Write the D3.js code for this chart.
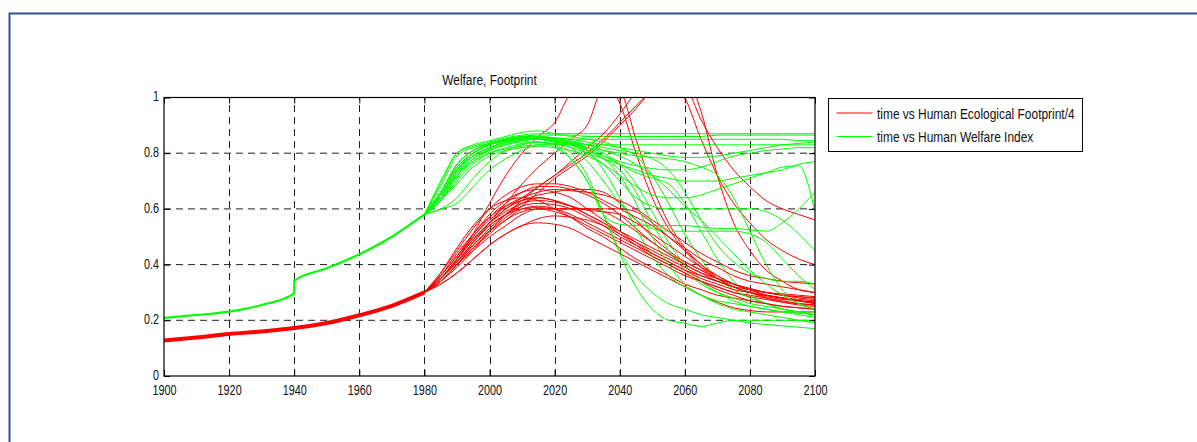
<!DOCTYPE html>
<html>
<head>
<meta charset="utf-8">
<script src="https://cdn.jsdelivr.net/npm/d3@7"></script>
<style>
  body { margin: 0; background: #fff; }
  svg { display: block; font-family: 'Liberation Sans', Arial, Helvetica, sans-serif; }
</style>
</head>
<body>
<div id="chart"></div>
<script>
// ---- data ----
// shared history (all runs coincide before 1980)
const historyYears = [1900, 1910, 1920, 1930, 1940, 1950, 1960, 1970, 1980];
const footprintHistory = [0.127, 0.138, 0.151, 0.16, 0.172, 0.19, 0.218, 0.252, 0.3];
const welfareHistoryYears = [1900, 1910, 1920, 1930, 1940, 1940, 1950, 1960, 1970, 1980];
const welfareHistory = [0.209, 0.219, 0.231, 0.255, 0.297, 0.342, 0.387, 0.437, 0.5, 0.58];

// scenario runs, 1980..2100 every 5 years
const runYears = [1980, 1985, 1990, 1995, 2000, 2005, 2010, 2015, 2020, 2025, 2030, 2035, 2040,
  2045, 2050, 2055, 2060, 2065, 2070, 2075, 2080, 2085, 2090, 2095, 2100];

// Human Ecological Footprint / 4
const footprintRuns = [
  [0.3, 0.35, 0.42, 0.51, 0.62, 0.72, 0.8, 0.86, 0.91, 1.02, 1.08, 1.06, 0.98, 0.8, 0.64, 0.53, 0.45, 0.39, 0.35, 0.32, 0.3, 0.28, 0.265, 0.255, 0.25],
  [0.3, 0.35, 0.41, 0.48, 0.55, 0.62, 0.69, 0.75, 0.8, 0.85, 0.9, 1.03, 1.02, 0.85, 0.68, 0.55, 0.46, 0.4, 0.35, 0.32, 0.3, 0.285, 0.275, 0.27, 0.265],
  [0.3, 0.34, 0.39, 0.45, 0.52, 0.58, 0.63, 0.68, 0.72, 0.77, 0.82, 0.87, 0.94, 1.02, 1.08, 1.08, 1.0, 0.85, 0.72, 0.62, 0.55, 0.49, 0.45, 0.42, 0.4],
  [0.3, 0.34, 0.4, 0.46, 0.52, 0.57, 0.61, 0.66, 0.71, 0.75, 0.79, 0.84, 0.9, 0.96, 1.03, 1.09, 1.05, 0.92, 0.82, 0.74, 0.68, 0.63, 0.6, 0.58, 0.56],
  [0.3, 0.35, 0.42, 0.49, 0.55, 0.6, 0.64, 0.68, 0.72, 0.76, 0.8, 0.85, 0.91, 0.97, 1.03, 1.09, 1.08, 0.95, 0.72, 0.55, 0.45, 0.38, 0.34, 0.31, 0.3],
  [0.3, 0.33, 0.37, 0.42, 0.47, 0.51, 0.54, 0.55, 0.545, 0.53, 0.5, 0.47, 0.44, 0.41, 0.38, 0.35, 0.32, 0.29, 0.265, 0.245, 0.235, 0.23, 0.23, 0.23, 0.23],
  [0.3, 0.35, 0.41, 0.47, 0.53, 0.58, 0.62, 0.64, 0.63, 0.61, 0.58, 0.55, 0.51, 0.47, 0.43, 0.4, 0.37, 0.34, 0.32, 0.3, 0.285, 0.275, 0.265, 0.26, 0.255],
  [0.3, 0.36, 0.43, 0.5, 0.57, 0.62, 0.66, 0.68, 0.68, 0.67, 0.65, 0.62, 0.58, 0.53, 0.48, 0.44, 0.4, 0.37, 0.34, 0.32, 0.3, 0.29, 0.28, 0.27, 0.265],
  [0.3, 0.34, 0.4, 0.46, 0.51, 0.56, 0.59, 0.6, 0.6, 0.6, 0.6, 0.59, 0.56, 0.52, 0.48, 0.44, 0.41, 0.38, 0.35, 0.33, 0.31, 0.3, 0.29, 0.285, 0.28],
  [0.3, 0.35, 0.42, 0.49, 0.55, 0.6, 0.63, 0.65, 0.66, 0.67, 0.67, 0.66, 0.62, 0.56, 0.5, 0.45, 0.41, 0.38, 0.35, 0.33, 0.315, 0.3, 0.29, 0.285, 0.28],
  [0.3, 0.34, 0.4, 0.45, 0.5, 0.54, 0.58, 0.6, 0.59, 0.57, 0.54, 0.51, 0.48, 0.45, 0.42, 0.39, 0.36, 0.34, 0.32, 0.3, 0.29, 0.28, 0.27, 0.26, 0.255],
  [0.3, 0.37, 0.46, 0.54, 0.6, 0.63, 0.64, 0.63, 0.6, 0.57, 0.53, 0.5, 0.46, 0.42, 0.39, 0.36, 0.33, 0.31, 0.29, 0.28, 0.27, 0.26, 0.25, 0.245, 0.24],
  [0.3, 0.35, 0.41, 0.48, 0.54, 0.58, 0.61, 0.62, 0.615, 0.6, 0.57, 0.54, 0.5, 0.47, 0.44, 0.41, 0.38, 0.36, 0.34, 0.32, 0.31, 0.3, 0.295, 0.29, 0.285],
  [0.3, 0.33, 0.37, 0.42, 0.47, 0.51, 0.54, 0.565, 0.575, 0.57, 0.56, 0.54, 0.51, 0.48, 0.45, 0.42, 0.39, 0.36, 0.34, 0.32, 0.3, 0.29, 0.28, 0.27, 0.265],
  [0.3, 0.37, 0.45, 0.53, 0.6, 0.65, 0.68, 0.69, 0.69, 0.68, 0.66, 0.63, 0.6, 0.57, 0.54, 0.5, 0.46, 0.42, 0.39, 0.36, 0.34, 0.33, 0.32, 0.31, 0.3],
  [0.3, 0.35, 0.42, 0.5, 0.56, 0.61, 0.64, 0.66, 0.67, 0.665, 0.66, 0.65, 0.63, 0.6, 0.56, 0.52, 0.48, 0.44, 0.41, 0.38, 0.36, 0.35, 0.34, 0.335, 0.33],
  [0.3, 0.34, 0.4, 0.47, 0.52, 0.56, 0.6, 0.61, 0.6, 0.58, 0.55, 0.52, 0.49, 0.46, 0.43, 0.4, 0.37, 0.34, 0.31, 0.29, 0.27, 0.26, 0.25, 0.245, 0.24],
  [0.3, 0.36, 0.43, 0.51, 0.57, 0.61, 0.63, 0.64, 0.63, 0.61, 0.58, 0.55, 0.52, 0.49, 0.46, 0.43, 0.4, 0.37, 0.35, 0.33, 0.31, 0.3, 0.29, 0.28, 0.275],
  [0.3, 0.35, 0.42, 0.49, 0.55, 0.59, 0.62, 0.63, 0.625, 0.61, 0.595, 0.59, 0.58, 0.55, 0.51, 0.47, 0.43, 0.39, 0.36, 0.33, 0.31, 0.29, 0.28, 0.27, 0.26],
  [0.3, 0.36, 0.44, 0.51, 0.58, 0.63, 0.66, 0.67, 0.66, 0.64, 0.6, 0.56, 0.52, 0.48, 0.44, 0.41, 0.38, 0.35, 0.33, 0.31, 0.3, 0.29, 0.28, 0.275, 0.27],
  [0.3, 0.35, 0.41, 0.48, 0.54, 0.58, 0.6, 0.605, 0.6, 0.6, 0.6, 0.6, 0.6, 0.59, 0.55, 0.5, 0.45, 0.4, 0.36, 0.33, 0.31, 0.29, 0.28, 0.27, 0.26]
];

// Human Welfare Index
const welfareRuns = [
  [0.58, 0.69, 0.8, 0.825, 0.84, 0.855, 0.865, 0.87, 0.87, 0.87, 0.87, 0.87, 0.87, 0.87, 0.87, 0.87, 0.87, 0.87, 0.87, 0.87, 0.87, 0.87, 0.87, 0.87, 0.87],
  [0.58, 0.66, 0.76, 0.81, 0.835, 0.85, 0.86, 0.865, 0.865, 0.865, 0.86, 0.86, 0.86, 0.86, 0.86, 0.86, 0.86, 0.86, 0.865, 0.865, 0.865, 0.865, 0.865, 0.865, 0.865],
  [0.58, 0.65, 0.74, 0.79, 0.82, 0.84, 0.85, 0.855, 0.855, 0.85, 0.85, 0.85, 0.85, 0.85, 0.85, 0.85, 0.85, 0.85, 0.85, 0.85, 0.85, 0.85, 0.85, 0.845, 0.845],
  [0.58, 0.64, 0.72, 0.77, 0.8, 0.815, 0.825, 0.83, 0.83, 0.83, 0.83, 0.83, 0.83, 0.83, 0.83, 0.83, 0.83, 0.83, 0.83, 0.83, 0.83, 0.83, 0.83, 0.83, 0.83],
  [0.58, 0.66, 0.75, 0.8, 0.83, 0.845, 0.855, 0.86, 0.855, 0.85, 0.84, 0.83, 0.82, 0.81, 0.8, 0.79, 0.785, 0.785, 0.79, 0.8, 0.81, 0.82, 0.83, 0.835, 0.84],
  [0.58, 0.68, 0.79, 0.82, 0.835, 0.845, 0.85, 0.85, 0.84, 0.83, 0.81, 0.79, 0.77, 0.755, 0.745, 0.74, 0.74, 0.75, 0.77, 0.79, 0.8, 0.81, 0.815, 0.82, 0.82],
  [0.58, 0.65, 0.73, 0.79, 0.82, 0.84, 0.85, 0.85, 0.84, 0.82, 0.8, 0.78, 0.76, 0.74, 0.72, 0.71, 0.7, 0.7, 0.7, 0.71, 0.72, 0.73, 0.74, 0.76, 0.77],
  [0.58, 0.63, 0.69, 0.75, 0.79, 0.81, 0.82, 0.825, 0.82, 0.81, 0.79, 0.76, 0.72, 0.68, 0.65, 0.64, 0.64, 0.65, 0.67, 0.69, 0.71, 0.73, 0.75, 0.755, 0.59],
  [0.58, 0.66, 0.75, 0.8, 0.83, 0.85, 0.86, 0.86, 0.85, 0.83, 0.8, 0.76, 0.7, 0.64, 0.61, 0.6, 0.6, 0.6, 0.6, 0.6, 0.6, 0.59, 0.56, 0.51, 0.45],
  [0.58, 0.63, 0.72, 0.78, 0.81, 0.83, 0.845, 0.85, 0.84, 0.8, 0.72, 0.58, 0.44, 0.32, 0.24, 0.2, 0.19, 0.178, 0.19, 0.2, 0.2, 0.2, 0.2, 0.2, 0.2],
  [0.58, 0.65, 0.74, 0.8, 0.83, 0.845, 0.855, 0.855, 0.85, 0.84, 0.81, 0.74, 0.64, 0.53, 0.43, 0.36, 0.32, 0.29, 0.27, 0.26, 0.25, 0.24, 0.23, 0.22, 0.21],
  [0.58, 0.64, 0.73, 0.79, 0.82, 0.84, 0.85, 0.85, 0.845, 0.835, 0.82, 0.8, 0.76, 0.69, 0.59, 0.48, 0.4, 0.34, 0.3, 0.27, 0.25, 0.24, 0.23, 0.225, 0.22],
  [0.58, 0.7, 0.8, 0.83, 0.845, 0.86, 0.875, 0.88, 0.87, 0.86, 0.85, 0.84, 0.82, 0.79, 0.72, 0.62, 0.51, 0.42, 0.35, 0.31, 0.28, 0.26, 0.24, 0.23, 0.22],
  [0.58, 0.66, 0.76, 0.81, 0.835, 0.85, 0.855, 0.855, 0.85, 0.84, 0.82, 0.79, 0.76, 0.73, 0.71, 0.69, 0.62, 0.52, 0.42, 0.34, 0.29, 0.26, 0.24, 0.23, 0.23],
  [0.58, 0.65, 0.74, 0.8, 0.83, 0.845, 0.85, 0.85, 0.845, 0.835, 0.82, 0.81, 0.8, 0.79, 0.785, 0.78, 0.77, 0.75, 0.72, 0.64, 0.52, 0.4, 0.31, 0.26, 0.24],
  [0.58, 0.63, 0.7, 0.76, 0.8, 0.82, 0.835, 0.84, 0.83, 0.78, 0.7, 0.58, 0.545, 0.54, 0.54, 0.54, 0.54, 0.535, 0.53, 0.53, 0.525, 0.52, 0.55, 0.6, 0.66],
  [0.58, 0.6, 0.64, 0.71, 0.77, 0.81, 0.83, 0.84, 0.835, 0.82, 0.77, 0.7, 0.62, 0.56, 0.53, 0.52, 0.52, 0.52, 0.52, 0.52, 0.51, 0.48, 0.42, 0.36, 0.31],
  [0.58, 0.64, 0.72, 0.78, 0.815, 0.835, 0.845, 0.85, 0.845, 0.83, 0.81, 0.78, 0.74, 0.66, 0.55, 0.45, 0.38, 0.33, 0.3, 0.28, 0.26, 0.25, 0.24, 0.23, 0.22],
  [0.58, 0.65, 0.74, 0.8, 0.83, 0.845, 0.85, 0.85, 0.845, 0.84, 0.83, 0.82, 0.81, 0.8, 0.78, 0.74, 0.66, 0.56, 0.47, 0.41, 0.37, 0.35, 0.34, 0.34, 0.33],
  [0.58, 0.63, 0.71, 0.77, 0.81, 0.83, 0.84, 0.84, 0.82, 0.78, 0.7, 0.58, 0.45, 0.36, 0.3, 0.26, 0.24, 0.22, 0.21, 0.2, 0.19, 0.185, 0.18, 0.175, 0.17],
  [0.58, 0.6, 0.62, 0.68, 0.74, 0.78, 0.81, 0.83, 0.835, 0.83, 0.81, 0.78, 0.72, 0.62, 0.5, 0.4, 0.33, 0.29, 0.26, 0.24, 0.23, 0.22, 0.21, 0.2, 0.19],
  [0.58, 0.66, 0.76, 0.81, 0.835, 0.85, 0.86, 0.86, 0.855, 0.845, 0.83, 0.81, 0.79, 0.76, 0.72, 0.67, 0.61, 0.56, 0.5, 0.44, 0.38, 0.33, 0.29, 0.26, 0.24]
];

const xTicks = [1900, 1920, 1940, 1960, 1980, 2000, 2020, 2040, 2060, 2080, 2100];
const yTicks = [0, 0.2, 0.4, 0.6, 0.8, 1];
const yTickLabels = ['0', '0.2', '0.4', '0.6', '0.8', '1'];
const chartTitle = 'Welfare, Footprint';
const legendLabels = ['time vs Human Ecological Footprint/4', 'time vs Human Welfare Index'];
const seriesColors = ['#ff0000', '#00ff00'];

// ---- layout ----
const width = 1197;
const height = 442;
const plot = { left: 164, right: 815, top: 97.5, bottom: 376 };
const fontSize = 15.5;
const tickSqueeze = 0.7;   // the figure is horizontally compressed, text included
const labelSqueeze = 0.77;

const svg = d3.select('#chart')
  .append('svg')
  .attr('width', width)
  .attr('height', height);

// page frame
svg.append('rect')
  .attr('x', 9.5).attr('y', 13.5)
  .attr('width', width + 20).attr('height', height + 20)
  .attr('fill', 'none')
  .attr('stroke', '#2c5593')
  .attr('stroke-width', 2);

const x = d3.scaleLinear().domain([1900, 2100]).range([plot.left, plot.right]);
const y = d3.scaleLinear().domain([0, 1]).range([plot.bottom, plot.top]);

// grid
const grid = svg.append('g')
  .attr('stroke', '#222')
  .attr('stroke-width', 1)
  .attr('stroke-dasharray', '7,5');

grid.selectAll('.vgrid')
  .data(xTicks.slice(1, -1))
  .join('line')
    .attr('x1', d => Math.round(x(d)) + 0.5)
    .attr('x2', d => Math.round(x(d)) + 0.5)
    .attr('y1', plot.bottom)
    .attr('y2', plot.top);

grid.selectAll('.hgrid')
  .data(yTicks.slice(1, -1))
  .join('line')
    .attr('x1', plot.left)
    .attr('x2', plot.right)
    .attr('y1', d => y(d))
    .attr('y2', d => y(d));

// lines
svg.append('clipPath')
  .attr('id', 'plot-clip')
  .append('rect')
    .attr('x', plot.left)
    .attr('y', plot.top)
    .attr('width', plot.right - plot.left)
    .attr('height', plot.bottom - plot.top);

const lineGen = d3.line()
  .x(d => x(d[0]))
  .y(d => y(d[1]))
  .curve(d3.curveMonotoneX);

const lines = svg.append('g')
  .attr('clip-path', 'url(#plot-clip)')
  .attr('fill', 'none');

lines.append('path')
  .attr('d', lineGen(d3.zip(historyYears, footprintHistory)))
  .attr('stroke', seriesColors[0])
  .attr('stroke-width', 4);

lines.append('path')
  .attr('d', lineGen(d3.zip(welfareHistoryYears, welfareHistory)))
  .attr('stroke', seriesColors[1])
  .attr('stroke-width', 2.2);

// runs drawn as in the source plot: footprint then welfare for each run
const nRuns = Math.max(footprintRuns.length, welfareRuns.length);
for (let i = 0; i < nRuns; i++) {
  if (footprintRuns[i]) {
    lines.append('path')
      .attr('d', lineGen(d3.zip(runYears, footprintRuns[i])))
      .attr('stroke', seriesColors[0])
      .attr('stroke-width', 1);
  }
  if (welfareRuns[i]) {
    lines.append('path')
      .attr('d', lineGen(d3.zip(runYears, welfareRuns[i])))
      .attr('stroke', seriesColors[1])
      .attr('stroke-width', 1);
  }
}

// axes box
svg.append('rect')
  .attr('x', plot.left).attr('y', plot.top)
  .attr('width', plot.right - plot.left)
  .attr('height', plot.bottom - plot.top)
  .attr('fill', 'none')
  .attr('stroke', '#000')
  .attr('stroke-width', 1.2);

// axes, ticks pointing inward like MATLAB
const styleAxis = g => {
  g.select('.domain').remove();
  g.selectAll('.tick line').attr('stroke', '#000');
  g.selectAll('text')
    .attr('fill', '#111')
    .style('font-size', fontSize + 'px')
    .attr('transform', `scale(${tickSqueeze},1)`);
};

svg.append('g')
  .attr('transform', `translate(0,${plot.bottom})`)
  .call(d3.axisBottom(x).tickValues(xTicks).tickFormat(d3.format('d'))
    .tickSizeInner(-6).tickSizeOuter(0).tickPadding(8))
  .call(styleAxis);

svg.append('g')
  .attr('transform', `translate(0,${plot.top})`)
  .call(d3.axisTop(x).tickValues(xTicks).tickFormat('')
    .tickSizeInner(-6).tickSizeOuter(0))
  .call(styleAxis);

svg.append('g')
  .attr('transform', `translate(${plot.left},0)`)
  .call(d3.axisLeft(y).tickValues(yTicks).tickFormat((d, i) => yTickLabels[i])
    .tickSizeInner(-6).tickSizeOuter(0).tickPadding(7))
  .call(styleAxis)
  .call(g => g.selectAll('text').attr('dy', '0.22em'));

svg.append('g')
  .attr('transform', `translate(${plot.right},0)`)
  .call(d3.axisRight(y).tickValues(yTicks).tickFormat('')
    .tickSizeInner(-6).tickSizeOuter(0))
  .call(styleAxis);

// title
svg.append('text')
  .attr('transform', `translate(${(plot.left + plot.right) / 2},85) scale(${labelSqueeze},1)`)
  .attr('text-anchor', 'middle')
  .attr('fill', '#111')
  .style('font-size', fontSize + 'px')
  .text(chartTitle);

// legend
const legend = svg.append('g').attr('transform', 'translate(828.5,98.5)');

legend.append('rect')
  .attr('width', 254)
  .attr('height', 53)
  .attr('fill', '#fff')
  .attr('stroke', '#000')
  .attr('stroke-width', 1);

legendLabels.forEach((label, i) => {
  const ly = 14.5 + i * 23.5;
  legend.append('line')
    .attr('x1', 8).attr('x2', 44)
    .attr('y1', ly).attr('y2', ly)
    .attr('stroke', seriesColors[i])
    .attr('stroke-width', 1);
  legend.append('text')
    .attr('transform', `translate(48.5,${ly + 5.5}) scale(${labelSqueeze},1)`)
    .attr('fill', '#111')
    .style('font-size', fontSize + 'px')
    .text(label);
});
</script>
</body>
</html>
